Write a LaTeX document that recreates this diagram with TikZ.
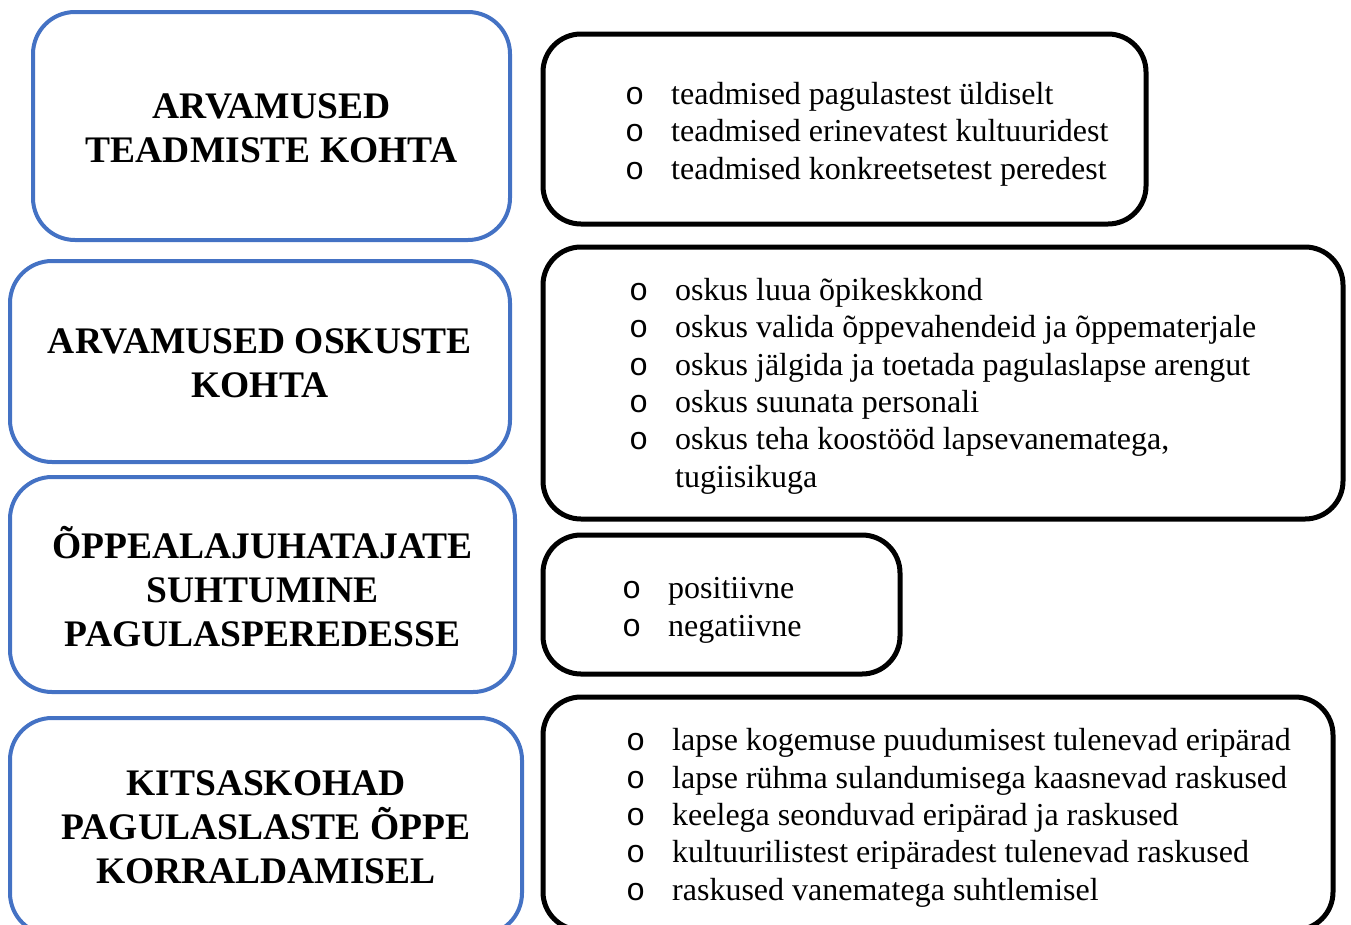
\documentclass[tikz,border=0pt]{standalone}
\usepackage{fontspec}
\setmainfont{Liberation Serif}
\newfontfamily\bulletfont{Liberation Mono}
\definecolor{boxblue}{HTML}{4472C4}
\newcommand{\bul}{\makebox[46pt][l]{\bulletfont o}}
\newcommand{\bind}{\hspace*{46pt}}
\tikzset{
  lbox/.style={draw=boxblue, line width=4pt, rounded corners=42pt, align=center,
    font=\fontsize{37.5}{44}\selectfont\bfseries, inner sep=0pt},
  rbox/.style={draw=black, line width=5pt, rounded corners=38pt, inner sep=0pt},
  rtext/.style={anchor=base west, align=left, inner sep=0pt,
    font=\fontsize{32}{37.3}\selectfont}
}
\begin{document}
\begin{tikzpicture}[x=1pt,y=-1pt]
\useasboundingbox (0,0) rectangle (1351,924);
\begin{scope}
\clip (0,0) rectangle (1351,924);
% left boxes
\node[lbox, minimum width=477pt, minimum height=228pt] (l1) at (271.5,126) {};
\node[lbox, minimum width=500pt, minimum height=201pt] (l2) at (260,361.5) {};
\node[lbox, minimum width=505pt, minimum height=215pt] (l3) at (262.5,584.5) {};
\node[lbox, minimum width=512pt, minimum height=217pt] (l4) at (266,826.5) {};
\node[lbox, draw=none] (h1) at ([yshift=-2pt]l1.center) {ARVAMUSED\\TEADMISTE KOHTA};
\node[lbox, draw=none] (h2) at ([yshift=-2pt]l2.center) {ARVAMUSED OSKUSTE\\KOHTA};
\node[lbox, draw=none] (h3) at ([yshift=-2pt]l3.center) {ÕPPEALAJUHATAJATE\\SUHTUMINE\\PAGULASPEREDESSE};
\node[lbox, draw=none] (h4) at ([yshift=-1pt]l4.center) {KITSASKOHAD\\PAGULASLASTE ÕPPE\\KORRALDAMISEL};
% right boxes
\node[rbox, minimum width=603pt, minimum height=190pt] (r1) at (844.5,129) {};
\node[rbox, minimum width=800pt, minimum height=272pt] (r2) at (943,383) {};
\node[rbox, minimum width=357pt, minimum height=139pt] (r3) at (721.5,604.5) {};
\node[rbox, minimum width=790pt, minimum height=233pt] (r4) at (938,813.5) {};
% texts (anchored at the baseline of the last line)
\node[rtext] (t1) at (625,179) {\bul teadmised pagulastest üldiselt\\\bul teadmised erinevatest kultuuridest\\\bul teadmised konkreetsetest peredest};
\node[rtext] (t2) at (629,487) {\bul oskus luua õpikeskkond\\\bul oskus valida õppevahendeid ja õppematerjale\\\bul oskus jälgida ja toetada pagulaslapse arengut\\\bul oskus suunata personali\\\bul oskus teha koostööd lapsevanematega,\\\bind tugiisikuga};
\node[rtext] (t3) at (622,636) {\bul positiivne\\\bul negatiivne};
\node[rtext] (t4) at (626,900) {\bul lapse kogemuse puudumisest tulenevad eripärad\\\bul lapse rühma sulandumisega kaasnevad raskused\\\bul keelega seonduvad eripärad ja raskused\\\bul kultuurilistest eripäradest tulenevad raskused\\\bul raskused vanematega suhtlemisel};
\end{scope}
\end{tikzpicture}
\end{document}
